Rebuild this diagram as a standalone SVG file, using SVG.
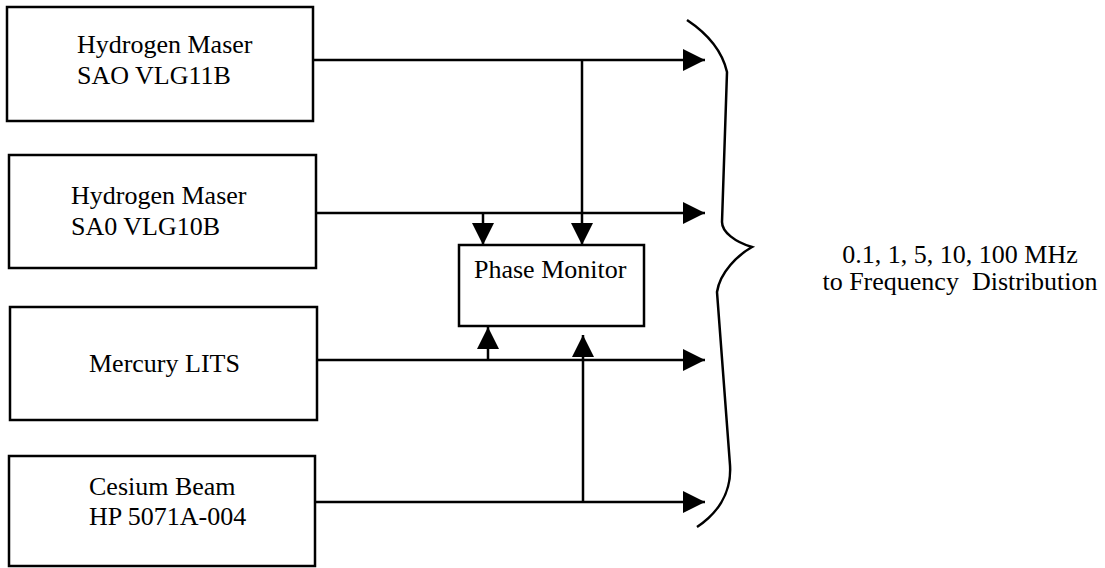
<svg xmlns="http://www.w3.org/2000/svg" width="1105" height="568" viewBox="0 0 1105 568">
<style>
.box{fill:#fff;stroke:#000;stroke-width:2.5}
.t{font-family:"Liberation Serif","Times New Roman",serif;font-size:26px;fill:#000}
.ln{fill:none;stroke:#000;stroke-width:2.5}
</style>
<defs>
<marker id="ah" markerUnits="userSpaceOnUse" markerWidth="22" markerHeight="22" refX="22" refY="11" orient="auto" viewBox="0 0 22 22">
<path d="M0,0 L22,11 L0,22 Z" fill="#000"/>
</marker>
</defs>
<rect width="1105" height="568" fill="#fff"/>
<g id="maser1">
<rect class="box" x="7" y="7" width="306" height="114"/>
<text class="t" x="77" y="53">Hydrogen Maser</text>
<text class="t" x="77" y="84">SAO VLG11B</text>
</g>
<g id="maser2">
<rect class="box" x="9" y="155" width="307" height="113"/>
<text class="t" x="71" y="204">Hydrogen Maser</text>
<text class="t" x="71" y="235">SA0 VLG10B</text>
</g>
<g id="mercury">
<rect class="box" x="10" y="307" width="307" height="113"/>
<text class="t" x="89" y="372">Mercury LITS</text>
</g>
<g id="cesium">
<rect class="box" x="9" y="456" width="306" height="110"/>
<text class="t" x="89" y="495">Cesium Beam</text>
<text class="t" x="89" y="525">HP 5071A-004</text>
</g>
<g id="phase">
<rect class="box" x="459" y="245" width="185" height="81"/>
<text class="t" x="474" y="278">Phase Monitor</text>
</g>
<g id="connectors">
<path class="ln" d="M313,60 H705" marker-end="url(#ah)"/>
<path class="ln" d="M582,60 V245" marker-end="url(#ah)"/>
<path class="ln" d="M316,213 H705" marker-end="url(#ah)"/>
<path class="ln" d="M483,213 V245" marker-end="url(#ah)"/>
<path class="ln" d="M317,360 H705" marker-end="url(#ah)"/>
<path class="ln" d="M488,360 V327" marker-end="url(#ah)"/>
<path class="ln" d="M315,502 H705" marker-end="url(#ah)"/>
<path class="ln" d="M583,502 V335" marker-end="url(#ah)"/>
</g>
<g id="brace">
<path class="ln" d="M687,20 C705,32 722,50 727,72 L722,222 C722,232 735,242 752,247 C738,255 720,272 717,292 L730,465 C732,495 715,515 697,527"/>
</g>
<g id="output-label">
<text class="t" x="960" y="263" text-anchor="middle">0.1, 1, 5, 10, 100 MHz</text>
<text class="t" x="960" y="290" text-anchor="middle" style="white-space:pre">to Frequency  Distribution</text>
</g>
</svg>
